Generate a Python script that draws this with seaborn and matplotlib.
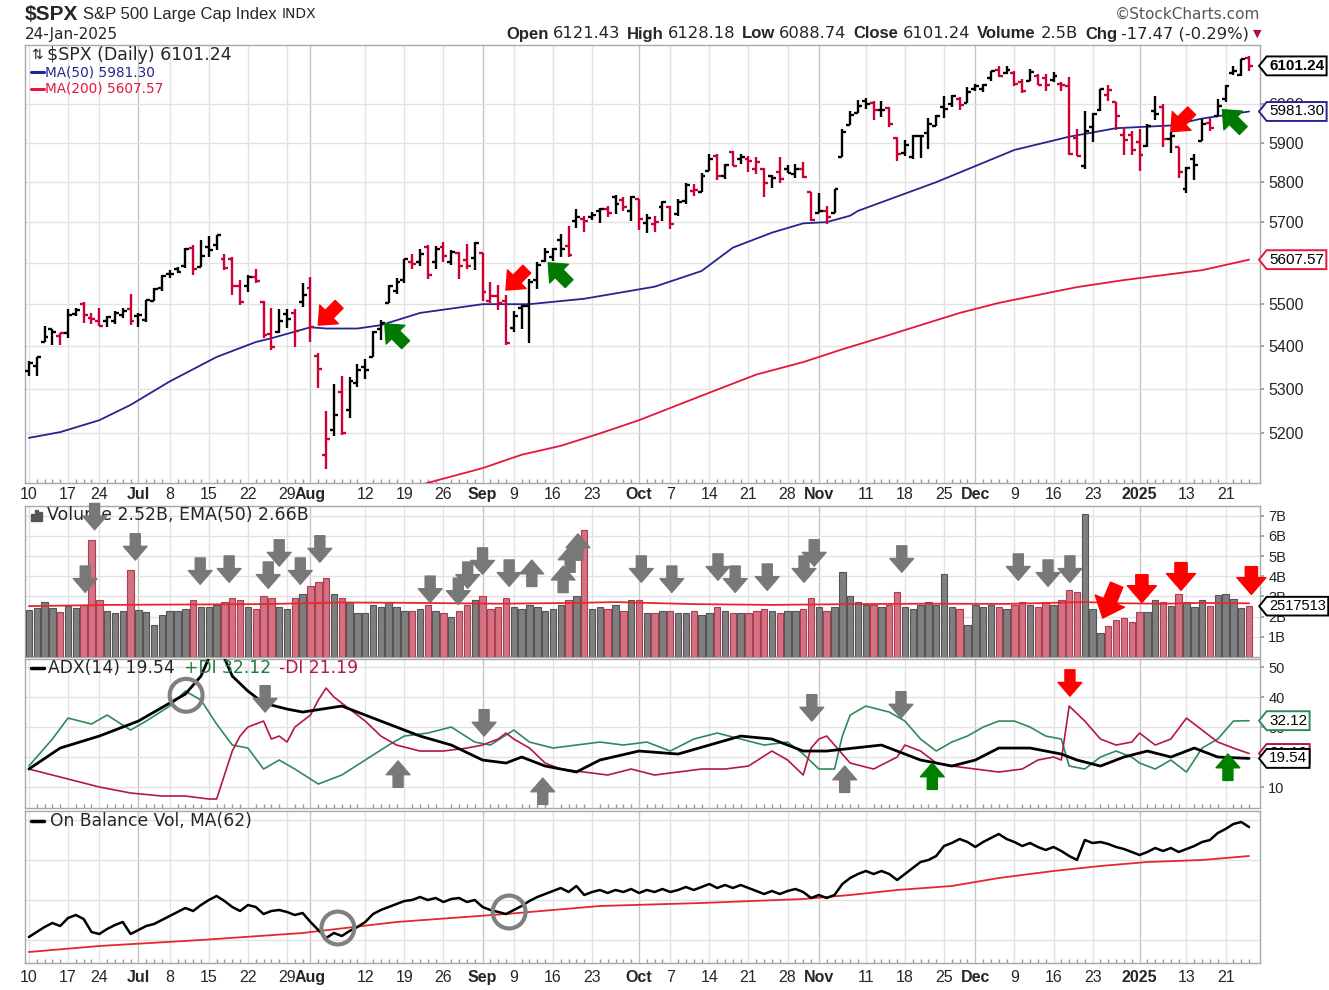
import numpy as np
import pandas as pd
import matplotlib.pyplot as plt
from matplotlib.path import Path
from matplotlib.patches import Rectangle
from matplotlib.ticker import FixedLocator, NullLocator, FuncFormatter
import seaborn as sns

# ---- data -------------------------------------------------------------
holidays = ["2024-06-19", "2024-07-04", "2024-09-02", "2024-11-28",
            "2024-12-25", "2025-01-01", "2025-01-09", "2025-01-20"]
dates = pd.bdate_range("2024-06-10", "2025-01-24")
dates = dates[~dates.isin(pd.to_datetime(holidays))]

prev_close = 5346.99

opens = [
    5341.2, 5353.0, 5409.1, 5441.9, 5424.1, 5431.1, 5476.2, 5499.9, 5466.8, 5459.6, 5460.7, 5460.7, 5473.6, 5488.5,
    5471.1, 5461.8, 5507.4, 5537.9, 5572.8, 5584.2, 5591.3, 5635.2, 5590.8, 5638.2, 5644.1, 5610.1, 5608.6, 5543.4,
    5544.2, 5565.3, 5505.8, 5428.7, 5433.7, 5476.6, 5478.7, 5505.6,
    5537.8, 5376.6, 5151.1, 5206.4, 5293.1, 5252.6, 5314.8, 5351.8, 5376.0, 5442.0, 5501.9, 5530.5, 5557.2, 5602.9,
    5603.1, 5637.8, 5602.5, 5639.7, 5602.9, 5624.5, 5607.3, 5612.7,
    5623.9, 5506.7, 5520.1, 5507.3, 5442.7, 5490.5, 5496.4, 5557.5, 5603.3, 5614.1, 5655.5, 5641.7, 5702.6, 5709.0,
    5711.9, 5727.2, 5733.0, 5762.2, 5755.4, 5726.5,
    5757.7, 5698.2, 5696.6, 5737.3, 5737.8, 5719.1, 5751.8, 5778.4, 5775.1, 5828.2, 5866.7, 5816.6, 5875.6, 5859.4,
    5857.8, 5832.7, 5834.5, 5816.6, 5826.8, 5833.9, 5819.7, 5832.6, 5775.3,
    5723.2, 5728.8, 5722.4, 5864.9, 5947.2, 5976.8, 6008.9, 6003.6, 5985.8, 5989.6, 5912.8, 5874.2, 5864.1, 5917.7,
    5924.4, 5944.4, 5992.3, 6000.0, 6014.1, 6004.0,
    6040.1, 6041.0, 6069.4, 6089.8, 6081.4, 6083.0, 6057.6, 6060.2, 6074.3, 6068.2, 6063.8, 6052.6, 6047.7, 5912.7,
    5842.0, 5940.3, 5984.7, 6025.0, 6006.2, 5920.7, 5920.0,
    5903.3, 5891.1, 5982.8, 5993.3, 5910.7, 5890.7, 5782.3, 5859.7, 5905.2, 5950.4, 5969.2, 6014.1, 6081.4, 6076.3,
    6121.4]
highs = [
    5365.8, 5375.9, 5447.3, 5441.9, 5432.4, 5488.5, 5490.4, 5505.5, 5478.3, 5490.7, 5472.9, 5483.1, 5490.8, 5523.6,
    5479.6, 5509.7, 5539.3, 5570.3, 5583.1, 5590.8, 5635.4, 5642.5, 5655.6, 5666.9, 5667.3, 5622.5, 5614.1, 5557.5,
    5570.4, 5585.3, 5508.0, 5491.5, 5488.2, 5487.7, 5489.5, 5551.5,
    5566.2, 5383.9, 5250.9, 5312.3, 5330.6, 5328.0, 5358.7, 5371.2, 5436.5, 5463.2, 5546.2, 5561.9, 5608.3, 5620.5,
    5632.7, 5643.2, 5641.8, 5651.6, 5631.2, 5627.0, 5646.9, 5651.4,
    5623.9, 5552.6, 5546.3, 5522.5, 5484.2, 5497.9, 5560.4, 5600.7, 5636.3, 5636.1, 5670.8, 5689.8, 5733.6, 5715.1,
    5725.4, 5735.3, 5741.0, 5767.4, 5763.8, 5765.1,
    5757.7, 5720.3, 5714.1, 5753.2, 5739.3, 5757.6, 5796.8, 5795.0, 5822.1, 5870.9, 5871.4, 5846.5, 5878.5, 5872.2,
    5866.9, 5863.0, 5834.9, 5817.8, 5862.8, 5842.9, 5847.2, 5850.9, 5775.3,
    5772.7, 5741.4, 5783.4, 5936.1, 5983.8, 6012.5, 6017.3, 6009.9, 6008.2, 5993.9, 5915.2, 5908.1, 5920.7, 5920.7,
    5963.3, 5972.9, 6020.8, 6025.4, 6020.2, 6044.2,
    6053.6, 6052.3, 6087.0, 6100.0, 6099.9, 6088.5, 6065.4, 6092.6, 6079.7, 6078.6, 6085.2, 6057.7, 6070.7, 5935.5,
    5982.1, 5978.3, 6040.1, 6049.8, 6006.2, 5940.8, 5929.7,
    5935.1, 5949.3, 6021.0, 6000.7, 5927.9, 5890.7, 5838.8, 5871.9, 5960.6, 5964.7, 6015.0, 6051.5, 6100.8, 6118.7,
    6128.2]
lows = [
    5331.5, 5331.3, 5409.1, 5402.5, 5403.8, 5420.4, 5471.3, 5455.6, 5452.0, 5447.6, 5446.6, 5451.9, 5467.5, 5451.1,
    5446.5, 5458.4, 5507.4, 5531.6, 5562.5, 5574.6, 5586.4, 5571.4, 5590.4, 5614.8, 5631.6, 5583.4, 5522.8, 5497.0,
    5529.0, 5550.9, 5419.0, 5390.9, 5430.7, 5444.4, 5398.0, 5493.3,
    5410.4, 5302.0, 5119.3, 5193.6, 5195.5, 5233.9, 5306.1, 5324.4, 5376.0, 5415.0, 5501.9, 5525.2, 5550.7, 5585.5,
    5591.6, 5560.9, 5585.2, 5602.3, 5593.5, 5560.9, 5584.4, 5581.3,
    5506.6, 5501.7, 5485.0, 5402.6, 5434.5, 5441.7, 5406.9, 5535.5, 5601.6, 5604.5, 5614.1, 5615.1, 5686.4, 5674.5,
    5704.9, 5698.9, 5712.1, 5721.0, 5727.3, 5703.5,
    5681.3, 5674.0, 5674.5, 5702.8, 5683.9, 5714.6, 5745.0, 5764.8, 5775.1, 5828.2, 5804.5, 5808.3, 5840.3, 5846.1,
    5824.8, 5821.2, 5762.4, 5784.9, 5799.0, 5823.1, 5810.2, 5811.3, 5703.9,
    5723.2, 5696.5, 5722.1, 5864.9, 5947.2, 5976.8, 5986.7, 5960.1, 5965.9, 5942.3, 5853.0, 5865.9, 5858.2, 5860.9,
    5885.4, 5944.4, 5963.9, 5992.3, 5984.9, 6004.0,
    6035.3, 6033.4, 6061.1, 6070.6, 6080.0, 6048.6, 6029.9, 6060.2, 6051.3, 6035.8, 6059.1, 6035.2, 5867.8, 5866.1,
    5832.3, 5902.6, 5981.4, 6007.4, 5933.0, 5869.2, 5868.9,
    5829.5, 5888.7, 5960.0, 5890.7, 5874.8, 5809.4, 5773.3, 5805.5, 5905.2, 5930.6, 5969.2, 6006.9, 6076.1, 6074.7,
    6088.7]
closes = [
    5360.8, 5375.3, 5421.0, 5433.7, 5431.6, 5473.2, 5487.0, 5473.2, 5464.6, 5447.9, 5469.3, 5477.9, 5482.9, 5460.5,
    5475.1, 5509.0, 5537.0, 5567.2, 5572.9, 5577.0, 5633.9, 5584.5, 5615.4, 5631.2, 5667.2, 5588.3, 5544.6, 5505.0,
    5564.4, 5555.7, 5427.1, 5399.2, 5459.1, 5463.5, 5436.4, 5522.3,
    5446.7, 5346.6, 5186.3, 5240.0, 5199.5, 5319.3, 5344.2, 5344.4, 5434.4, 5455.2, 5543.2, 5554.3, 5608.3, 5597.1,
    5620.9, 5570.6, 5634.6, 5616.8, 5625.8, 5592.2, 5592.0, 5648.4,
    5528.9, 5520.1, 5503.4, 5408.4, 5471.1, 5495.5, 5554.1, 5595.8, 5626.0, 5633.1, 5634.6, 5618.3, 5713.6, 5702.6,
    5718.6, 5732.9, 5722.3, 5745.4, 5738.2, 5762.5,
    5708.8, 5709.5, 5699.9, 5751.1, 5695.9, 5751.1, 5792.0, 5780.1, 5815.0, 5859.9, 5815.3, 5842.5, 5841.5, 5864.7,
    5854.0, 5851.2, 5797.4, 5809.9, 5808.1, 5823.5, 5832.9, 5813.7, 5705.5,
    5728.8, 5712.7, 5782.8, 5929.0, 5973.1, 5995.5, 6001.4, 5984.0, 5985.4, 5949.2, 5870.6, 5893.6, 5917.0, 5917.1,
    5948.7, 5969.3, 5987.4, 6021.6, 5998.7, 6032.4,
    6047.2, 6049.9, 6086.5, 6075.1, 6090.3, 6052.9, 6034.9, 6084.2, 6051.3, 6051.1, 6074.1, 6050.6, 5872.2, 5867.1,
    5930.9, 5974.1, 6040.0, 6037.6, 5970.8, 5906.9, 5881.6,
    5868.6, 5942.5, 5975.4, 5909.0, 5918.3, 5827.0, 5836.2, 5842.9, 5949.9, 5937.3, 5996.7, 6049.2, 6086.4, 6118.7,
    6101.2]

# volume in billions
volume_b = [
    2.35, 2.45, 2.7, 2.45, 2.25, 2.55, 2.45, 2.6, 5.8, 2.8, 2.3, 2.2, 2.3, 4.3,
    2.35, 2.25, 1.6, 2.1, 2.3, 2.3, 2.4, 2.8, 2.5, 2.5, 2.6, 2.7, 2.9, 2.8, 2.5, 2.4, 3.0, 2.9, 2.5, 2.4, 2.9, 3.1,
    3.5, 3.7, 3.9, 3.1, 2.9, 2.7, 2.2, 2.2, 2.6, 2.5, 2.7, 2.5, 2.3, 2.3, 2.4, 2.6, 2.3, 2.2, 2.0, 2.3, 2.6, 2.8,
    3.0, 2.4, 2.5, 2.9, 2.5, 2.4, 2.6, 2.5, 2.3, 2.4, 2.6, 2.8, 3.0, 6.3, 2.4, 2.5, 2.4, 2.6, 2.3, 2.8,
    2.8, 2.2, 2.2, 2.3, 2.3, 2.2, 2.2, 2.3, 2.1, 2.2, 2.5, 2.3, 2.2, 2.2, 2.2, 2.3, 2.4, 2.3, 2.2, 2.3, 2.3, 2.4, 2.9,
    2.5, 2.3, 2.5, 4.2, 3.0, 2.7, 2.6, 2.6, 2.5, 2.6, 3.2, 2.5, 2.4, 2.6, 2.7, 2.6, 4.1, 2.5, 2.4, 1.6,
    2.6, 2.5, 2.6, 2.5, 2.4, 2.6, 2.7, 2.6, 2.5, 2.7, 2.6, 2.8, 3.3, 3.2, 7.1, 2.4, 1.2, 1.55, 1.85, 1.95, 1.75,
    2.25, 2.25, 2.8, 2.7, 2.55, 3.1, 2.7, 2.5, 2.8, 2.55, 3.05, 3.1, 2.85, 2.45, 2.52]

ma50_idx = [0, 4, 9, 13, 18, 24, 29, 31, 36, 38, 42, 45, 50, 58, 64, 71, 80, 86, 90, 95, 99, 102,
            105, 106, 116, 126, 133, 139, 146, 150, 156]
ma50_val = [5189, 5202, 5229, 5264, 5318, 5375, 5410, 5419, 5445, 5442, 5442, 5450, 5479, 5500, 5500,
            5513, 5542, 5580, 5637, 5674, 5697, 5700, 5716, 5728, 5800, 5882, 5916, 5938, 5945, 5963, 5981.3]
ma200_idx = [46, 52, 58, 63, 68, 73, 78, 83, 88, 93, 99, 104, 109, 114, 119, 124, 129, 134, 140,
             145, 150, 156]
ma200_val = [5065, 5093, 5121, 5151, 5171, 5199, 5229, 5264, 5299, 5334, 5363, 5393, 5421, 5450,
             5479, 5503, 5522, 5541, 5558, 5570, 5582, 5607.6]

vema_idx = [0, 10, 20, 30, 40, 50, 60, 70, 75, 85, 95, 105, 115, 125, 135, 140, 145, 150, 156]
vema_val = [2.52, 2.58, 2.6, 2.62, 2.7, 2.68, 2.64, 2.68, 2.72, 2.62, 2.58, 2.62, 2.64, 2.63, 2.72,
            2.66, 2.64, 2.68, 2.66]

adx_idx = [0, 4, 9, 14, 20, 22, 23, 24, 25, 26, 28, 30, 33, 35, 40, 45, 50, 54, 58, 61, 63, 66, 70, 73,
           78, 83, 87, 91, 95, 99, 102, 109, 111, 114, 118, 121, 124, 128, 132, 134, 137, 140, 143, 146,
           149, 152, 156]
adx_val = [16, 23, 27, 32, 41, 47, 53, 56, 53, 47, 42, 38, 36, 35, 37, 32, 27, 24, 19, 18, 20, 17, 15, 19,
           22, 21, 24, 27, 26, 22, 22, 24, 22, 19, 17, 19, 23, 23, 21, 19, 17, 20, 22, 20, 23, 20, 19.54]
pdi_idx = [0, 3, 5, 8, 10, 13, 15, 18, 20, 22, 24, 26, 28, 30, 32, 34, 37, 40, 43, 46, 48, 51, 54, 57,
           59, 62, 64, 67, 70, 73, 76, 79, 82, 85, 88, 91, 94, 97, 99, 101, 103, 104, 105, 107, 110, 112,
           114, 116, 118, 120, 122, 124, 126, 128, 130, 132, 133, 135, 137, 139, 141, 142, 144, 146, 148,
           150, 152, 154, 156]
pdi_val = [17, 26, 33, 31, 34, 29, 32, 37, 42, 39, 31, 24, 23, 16, 19, 16, 11, 14, 19, 24, 27, 28, 30, 25,
           24, 29, 25, 23, 24, 25, 24, 25, 22, 26, 28, 26, 24, 25, 21, 16, 16, 27, 34, 37, 35, 32,
           26, 22, 25, 27, 30, 32, 32, 30, 27, 26, 17, 16, 20, 22, 20, 18, 16, 19, 15,
           23, 26, 32, 32.12]
mdi_idx = [0, 3, 6, 9, 13, 17, 20, 23, 24, 25, 26, 27, 28, 30, 31, 32, 33, 34, 36, 37, 38, 39, 41, 43,
           45, 47, 50, 53, 56, 58, 60, 61, 62, 64, 66, 68, 71, 74, 77, 80, 83, 86, 89, 92, 95, 97, 99,
           100, 101, 102, 103, 105, 108, 111, 112, 114, 116, 118, 121, 124, 127, 129, 131, 132, 133, 135,
           137, 139, 141, 142, 144, 146, 148, 150, 152, 154, 156]
mdi_val = [16, 14, 12, 10, 8, 7, 7, 6, 6, 14, 22, 27, 30, 32, 26, 27, 25, 30, 34, 39, 43, 40, 36, 32,
           27, 24, 22, 22, 23, 24, 26, 28, 26, 23, 18, 16, 15, 14, 16, 14, 15, 16, 16, 17, 22, 19, 14,
           23, 26, 27, 24, 18, 16, 20, 24, 22, 18, 17, 16, 15, 16, 19, 20, 19, 37, 32,
           26, 24, 25, 28, 24, 26, 33, 29, 25, 23, 21.19]

# on balance volume (relative, billions)
obv = [
    23, 28, 33, 37, 34, 42, 45, 41, 28, 26, 31, 35, 38, 26,
    30, 34, 36, 40, 44, 48, 52, 49, 55, 60, 64, 59, 53, 49, 55, 53, 46, 49, 50, 48, 45, 47,
    38, 30, 22, 27, 24, 29, 33, 38, 46, 50, 53, 56, 59, 60, 63, 60, 62, 58, 61, 62, 58, 60,
    53, 50, 48, 46, 50, 54, 59, 63, 66, 69, 72, 68, 74, 65, 68, 70, 67, 70, 68, 71,
    67, 70, 68, 71, 68, 70, 73, 70, 73, 76, 72, 75, 72, 75, 72, 69, 66, 69, 66, 69, 71, 68, 62,
    65, 62, 65, 76, 82, 86, 89, 86, 89, 86, 80, 86, 92, 98, 100, 104, 114, 117, 121, 118,
    113, 118, 122, 126, 121, 118, 114, 117, 113, 110, 113, 109, 104, 100, 120, 117, 118, 116, 113, 111, 108,
    105, 108, 112, 109, 112, 108, 111, 114, 118, 120, 127, 131, 136, 138, 133]
obvma_idx = [0, 9, 22, 35, 47, 61, 73, 86, 99, 105, 111, 118, 124, 131, 137, 143, 150, 156]
obvma_val = [8, 14, 20, 27, 38, 46, 54, 57, 61, 65, 70, 74, 82, 89, 94, 98, 100, 104]

tick_dates = ["2024-06-10", "2024-06-17", "2024-06-24", "2024-07-01", "2024-07-08", "2024-07-15",
              "2024-07-22", "2024-07-29", "2024-08-01", "2024-08-12", "2024-08-19", "2024-08-26",
              "2024-09-03", "2024-09-09", "2024-09-16", "2024-09-23", "2024-10-01", "2024-10-07",
              "2024-10-14", "2024-10-21", "2024-10-28", "2024-11-01", "2024-11-11", "2024-11-18",
              "2024-11-25", "2024-12-02", "2024-12-09", "2024-12-16", "2024-12-23", "2025-01-02",
              "2025-01-13", "2025-01-21"]
tick_text = ["10", "17", "24", "Jul", "8", "15", "22", "29", "Aug", "12", "19", "26", "Sep", "9", "16",
             "23", "Oct", "7", "14", "21", "28", "Nov", "11", "18", "25", "Dec", "9", "16", "23", "2025",
             "13", "21"]
month_labels = {"Jul", "Aug", "Sep", "Oct", "Nov", "Dec", "2025"}
price_ticks = [5200, 5300, 5400, 5500, 5600, 5700, 5800, 5900, 6000]

assert len(dates) == len(closes) == len(volume_b) == len(obv) == 157

# ---- style ------------------------------------------------------------
sns.set_theme(style="white")
plt.rcParams["font.family"] = ["Liberation Sans", "DejaVu Sans"]
DV = ["DejaVu Sans"]
RED = "#cc0033"
NAVY = "#25258f"
MA_RED = "#e3173e"
GREEN_DI = "#2e8b57"
RED_DI = "#b3174a"
GRID = "#e2e2e2"
MGRID = "#c4c4c4"

W, H = 1329, 990
fig = plt.figure(figsize=(W / 100, H / 100), dpi=100)
fig.patch.set_facecolor("white")
renderer = fig.canvas.get_renderer()


def px_axes(top, bottom, left=25, right=1260):
    return fig.add_axes([left / W, 1 - bottom / H, (right - left) / W, (bottom - top) / H])


ax_p = px_axes(45, 483)
ax_v = px_axes(506, 657)
ax_a = px_axes(659, 808)
ax_o = px_axes(811, 963)
axes = [ax_p, ax_v, ax_a, ax_o]
panel_px = {ax_p: (45, 483), ax_v: (506, 657), ax_a: (659, 808), ax_o: (811, 963)}

idx = np.arange(len(dates))
opens, highs, lows, closes = map(np.array, (opens, highs, lows, closes))
up = closes > np.r_[prev_close, closes[:-1]]
tick_pos = [dates.get_loc(pd.Timestamp(d)) for d in tick_dates]


def fx(px):
    return (px - 25) / 1235


def fy(ax, py):
    top, bot = panel_px[ax]
    return (bot - py) / (bot - top)


def tag_box(x0, y0, width, height, mutation_size):
    pad = 0.16 * mutation_size
    x0, y0 = x0 - pad, y0 - pad
    width, height = width + 2 * pad, height + 2 * pad
    tip = 0.4 * height
    verts = [(x0, y0), (x0 + width, y0), (x0 + width, y0 + height), (x0, y0 + height),
             (x0 - tip, y0 + height / 2), (x0, y0)]
    return Path(verts, closed=True)


def tag(ax, val, text, color, bold=False, size=11):
    ax.annotate(text, xy=(1, val), xycoords=ax.get_yaxis_transform(), xytext=(6.5, 0),
                textcoords="offset points", ha="left", va="center", fontsize=size,
                fontweight="bold" if bold else "normal", color="black",
                bbox=dict(boxstyle=tag_box, fc="white", ec=color, lw=1.4),
                annotation_clip=False, zorder=20)


def block_arrow(ax, x, y, dx, dy, color, ms=18):
    ax.annotate("", xy=(x, y), xytext=(dx, dy), textcoords="offset points",
                arrowprops=dict(arrowstyle="simple,head_length=0.55,head_width=0.95,tail_width=0.4",
                                color=color, shrinkA=0, shrinkB=0, mutation_scale=ms),
                annotation_clip=False, zorder=15)


def ring(ax, x, y):
    ax.scatter([x], [y], s=560, facecolors="none", edgecolors="#808080", linewidths=3,
               zorder=15, clip_on=False)


def text_row(x_px, y_px, pieces):
    # pieces: (text, gap_after_px, kwargs); laid out left to right
    x = x_px
    for t, gap, kw in pieces:
        txt = fig.text(x / W, 1 - y_px / H, t, va="center", ha="left", **kw)
        x += txt.get_window_extent(renderer).width + gap


# ---- common axes setup ------------------------------------------------
for ax in axes:
    ax.set_facecolor("white")
    ax.set_xlim(-0.5, 157.4)
    for s in ax.spines.values():
        s.set_color("#a8a8a8")
        s.set_linewidth(1.0)
    for p, t in zip(tick_pos, tick_text):
        ax.axvline(p, color=MGRID if t in month_labels else GRID, lw=1.0, zorder=0)
    ax.set_xticks(tick_pos)
    ax.set_xticks(idx, minor=True)
    ax.tick_params(axis="x", which="minor", length=3, direction="in", color="#999999", bottom=True)
    ax.tick_params(axis="x", which="major", length=0, labelsize=11.5)
    ax.yaxis.tick_right()
    ax.tick_params(axis="y", which="major", right=True, left=False, length=3, color="#999999",
                   labelsize=11.5, pad=3)
    ax.grid(False)

for ax, pad in ((ax_p, 3), (ax_o, 5)):
    ax.set_xticklabels(tick_text)
    ax.tick_params(axis="x", which="major", pad=pad)
    for lab in ax.get_xticklabels():
        if lab.get_text() in month_labels:
            lab.set_fontweight("bold")
for ax in (ax_v, ax_a):
    ax.set_xticklabels([])

# ---- price panel ------------------------------------------------------
ax_p.set_yscale("log")
ax_p.set_ylim(5088, 6157)
ax_p.yaxis.set_major_locator(FixedLocator(price_ticks))
ax_p.yaxis.set_major_formatter(FuncFormatter(lambda v, p: f"{v:.0f}"))
ax_p.yaxis.set_minor_locator(NullLocator())
for v in price_ticks:
    ax_p.axhline(v, color=GRID, lw=1.0, zorder=0)

bar_col = np.where(up, "black", RED)
ax_p.vlines(idx, lows, highs, colors=bar_col, lw=1.7, zorder=4)
ax_p.hlines(opens, idx - 0.5, idx, colors=bar_col, lw=1.7, zorder=4)
ax_p.hlines(closes, idx, idx + 0.5, colors=bar_col, lw=1.7, zorder=4)

sns.lineplot(x=ma50_idx, y=ma50_val, ax=ax_p, color=NAVY, lw=1.3, zorder=3)
sns.lineplot(x=ma200_idx, y=ma200_val, ax=ax_p, color=MA_RED, lw=1.3, zorder=3)
ax_p.set_ylabel("")
ax_p.set_xlabel("")

ax_p.text(fx(31), fy(ax_p, 55), "⇅", transform=ax_p.transAxes, fontsize=10, va="center", family=DV)
ax_p.text(fx(47), fy(ax_p, 55), r"\$SPX (Daily) 6101.24", transform=ax_p.transAxes,
          fontsize=12.5, va="center", family=DV, zorder=12)
ax_p.plot([fx(31), fx(44)], [fy(ax_p, 72)] * 2, transform=ax_p.transAxes, color=NAVY, lw=2.2)
ax_p.text(fx(45), fy(ax_p, 72), "MA(50) 5981.30", transform=ax_p.transAxes, fontsize=9.8,
          va="center", color=NAVY, family=DV)
ax_p.plot([fx(31), fx(44)], [fy(ax_p, 89)] * 2, transform=ax_p.transAxes, color=MA_RED, lw=2.2)
ax_p.text(fx(45), fy(ax_p, 89), "MA(200) 5607.57", transform=ax_p.transAxes, fontsize=9.8,
          va="center", color=MA_RED, family=DV)

tag(ax_p, 5607.57, "5607.57", MA_RED)
tag(ax_p, 5981.30, "5981.30", NAVY)
tag(ax_p, 6101.24, "6101.24", "black", bold=True, size=11)

for x, y, c, dy in [(37, 5450, "#ff0000", 15), (45.5, 5453, "#007a00", -15),
                    (61, 5534, "#ff0000", 15), (66.4, 5600, "#007a00", -15),
                    (146, 5929, "#ff0000", 15), (152.6, 5986, "#007a00", -15)]:
    block_arrow(ax_p, x, y, 15, dy, c, ms=20)

# ---- volume panel -----------------------------------------------------
ax_v.set_ylim(0, 7.48)
ax_v.set_yticks([1, 2, 3, 4, 5, 6, 7])
ax_v.set_yticklabels([f"{v}B" for v in range(1, 8)])
ax_v.tick_params(axis="y", labelsize=10.5)
for v in range(1, 8):
    ax_v.axhline(v, color=GRID, lw=1.0, zorder=0)
ax_v.bar(idx, volume_b, width=0.82, color=np.where(up, "#7f7f7f", "#d27382"),
         edgecolor=np.where(up, "#555555", "#b23a52"), lw=0.8, zorder=3)
sns.lineplot(x=vema_idx, y=vema_val, ax=ax_v, color="#e8262e", lw=1.3, zorder=4)
ax_v.set_ylabel("")
for k, hgt in enumerate([7, 11, 9]):
    ax_v.add_patch(Rectangle((fx(31 + 4 * k), fy(ax_v, 521)), 3 / 1235, hgt / 151,
                             transform=ax_v.transAxes, color="#555555", zorder=12))
ax_v.text(fx(47), fy(ax_v, 515), "Volume 2.52B, EMA(50) 2.66B", transform=ax_v.transAxes,
          fontsize=12.5, va="center", family=DV, zorder=12)
tag(ax_v, 2.5175, "2517513", "black", size=10.5)

for x, y in [(7.2, 3.2), (8.4, 6.3), (13.6, 4.8), (21.9, 3.6), (25.6, 3.7), (30.6, 3.4), (32, 4.5),
             (34.7, 3.6), (37.2, 4.7), (51.3, 2.7), (54.9, 2.6), (56.1, 3.4), (58, 4.1), (61.4, 3.5),
             (78.3, 3.7), (82.2, 3.2), (88.1, 3.8), (90.3, 3.2), (94.4, 3.3), (99.1, 3.7),
             (100.4, 4.5), (111.6, 4.2), (126.5, 3.8), (130.3, 3.5), (133.1, 3.7)]:
    block_arrow(ax_v, x, y, 0, 19, "#787878")
for x, y in [(64.3, 4.8), (68.3, 4.5), (69.2, 5.5), (70.2, 6.1)]:
    block_arrow(ax_v, x, y, 0, -19, "#787878")
block_arrow(ax_v, 137.3, 1.93, 10, 24, "#ff0000", ms=24)
for x, y in [(142.3, 2.7), (147.3, 3.3), (156.3, 3.1)]:
    block_arrow(ax_v, x, y, 0, 20, "#ff0000", ms=22)

# ---- ADX panel --------------------------------------------------------
ax_a.set_ylim(3.0, 52.7)
ax_a.set_yticks([10, 20, 30, 40, 50])
ax_a.tick_params(axis="y", labelsize=10.5)
for v in [10, 20, 30, 40, 50]:
    ax_a.axhline(v, color=GRID, lw=1.0, zorder=0)
sns.lineplot(x=pdi_idx, y=pdi_val, ax=ax_a, color=GREEN_DI, lw=1.2, zorder=3)
sns.lineplot(x=mdi_idx, y=mdi_val, ax=ax_a, color=RED_DI, lw=1.2, zorder=3)
sns.lineplot(x=adx_idx, y=adx_val, ax=ax_a, color="black", lw=2.0, zorder=4)
ax_a.set_ylabel("")
ax_a.plot([fx(31), fx(44)], [fy(ax_a, 668)] * 2, transform=ax_a.transAxes, color="black", lw=2.5)
ax_a.text(fx(48), fy(ax_a, 668), "ADX(14) 19.54", transform=ax_a.transAxes, fontsize=12.3,
          va="center", family=DV, zorder=12)
ax_a.text(fx(184), fy(ax_a, 668), "+DI 32.12", transform=ax_a.transAxes, fontsize=12.3,
          va="center", family=DV, color="#1e7a3c", zorder=12)
ax_a.text(fx(279), fy(ax_a, 668), "-DI 21.19", transform=ax_a.transAxes, fontsize=12.3,
          va="center", family=DV, color=RED_DI, zorder=12)
tag(ax_a, 21.19, "21.19", RED_DI)
tag(ax_a, 32.12, "32.12", GREEN_DI)
tag(ax_a, 19.54, "19.54", "black")

for x, y in [(30.2, 35), (58.2, 27), (100.1, 32), (111.5, 33)]:
    block_arrow(ax_a, x, y, 0, 19, "#787878")
for x, y in [(47.2, 18.7), (65.7, 13), (104.3, 17)]:
    block_arrow(ax_a, x, y, 0, -19, "#787878")
for x, y in [(115.5, 18), (153.3, 21)]:
    block_arrow(ax_a, x, y, 0, -19, "#008000")
block_arrow(ax_a, 133.1, 40.3, 0, 19, "#ff0000")
ring(ax_a, 20.1, 40.6)

# ---- OBV panel --------------------------------------------------------
ax_o.set_ylim(-3, 149)
ax_o.set_yticks([20, 60, 100, 140])
ax_o.set_yticklabels([])
ax_o.tick_params(axis="y", length=0)
for v in [20, 60, 100, 140]:
    ax_o.axhline(v, color=GRID, lw=1.0, zorder=0)
sns.lineplot(x=obvma_idx, y=obvma_val, ax=ax_o, color="#e8262e", lw=1.3, zorder=3)
sns.lineplot(x=idx, y=obv, ax=ax_o, color="black", lw=1.8, zorder=4)
ax_o.set_ylabel("")
ax_o.plot([fx(31), fx(44)], [fy(ax_o, 821)] * 2, transform=ax_o.transAxes, color="black", lw=2.5)
ax_o.text(fx(50), fy(ax_o, 821), "On Balance Vol, MA(62)", transform=ax_o.transAxes, fontsize=12.3,
          va="center", family=DV, zorder=12)
ring(ax_o, 39.5, 32)
ring(ax_o, 61.4, 48)

# ---- header -----------------------------------------------------------
text_row(25, 14, [(r"\$SPX", 5, dict(fontsize=15, fontweight="bold")),
                  ("S&P 500 Large Cap Index", 5, dict(fontsize=12)),
                  ("INDX", 0, dict(fontsize=10, family=DV))])
fig.text(25 / W, 1 - 34 / H, "24-Jan-2025", fontsize=11, va="center", family=DV)
fig.text(1260 / W, 1 - 14 / H, "©StockCharts.com", fontsize=11, va="center", ha="right",
         color="#555555", family=DV)
lab = dict(fontsize=12, fontweight="bold")
num = dict(fontsize=11.8, family=DV)
text_row(506, 34, [("Open", 4, lab), ("6121.43", 7, num), ("High", 4, lab), ("6128.18", 7, num),
                   ("Low", 4, lab), ("6088.74", 7, num), ("Close", 4, lab), ("6101.24", 7, num),
                   ("Volume", 5, lab), ("2.5B", 7, num), ("Chg", 4, lab), ("-17.47 (-0.29%)", 4, num),
                   ("▼", 0, dict(fontsize=8, color="#b0103a", family=DV))])

fig.savefig("out.png", dpi=100)
